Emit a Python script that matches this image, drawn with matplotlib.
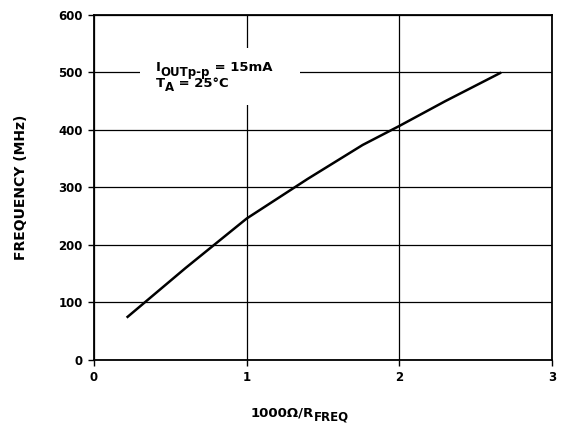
import matplotlib
matplotlib.use("Agg")
import matplotlib.pyplot as plt
from matplotlib.patches import Rectangle
from matplotlib.transforms import ScaledTranslation

# curve
x_vals = [0.22, 0.6, 1.0, 1.4, 1.76, 2.0, 2.3, 2.66]
freq_mhz = [75, 160, 246, 315, 374, 407, 450, 499]

x_ticks = [0, 1, 2, 3]
y_ticks = [0, 100, 200, 300, 400, 500, 600]

plt.rcParams['font.family'] = 'DejaVu Sans'
plt.rcParams['font.weight'] = 'bold'

fig = plt.figure(figsize=(5.67, 4.25), dpi=100)
ax = fig.add_axes([0.1658, 0.153, 0.8077, 0.8117])

ax.plot(x_vals, freq_mhz, color='black', lw=1.8, zorder=3)

ax.set_xlim(0, 3)
ax.set_ylim(0, 600)
ax.set_xticks(x_ticks)
ax.set_yticks(y_ticks)
ax.grid(True, color='black', lw=0.9)
ax.set_axisbelow(True)
for s in ax.spines.values():
    s.set_linewidth(1.3)
ax.tick_params(direction='out', length=4, width=1, labelsize=8.5, pad=4)
for lab in ax.get_xticklabels() + ax.get_yticklabels():
    lab.set_fontweight('bold')

ax.set_ylabel('FREQUENCY (MHz)', fontsize=10, fontweight='bold', labelpad=22)

# white patch behind the conditions note
ax.add_patch(Rectangle((0.30, 443), 1.05, 100, facecolor='white',
                       edgecolor='none', zorder=2))

fig.canvas.draw()
renderer = fig.canvas.get_renderer()


def rich(x, y, pieces, trans, center=False):
    # pieces: (text, size, dy in points)
    objs = []
    dx = 0.0
    for txt, size, dy in pieces:
        t = fig.text(x, y, txt, fontsize=size, fontweight='bold', va='baseline',
                     ha='left', zorder=5,
                     transform=trans + ScaledTranslation(dx, dy / 72, fig.dpi_scale_trans))
        w = t.get_window_extent(renderer).width / fig.dpi
        objs.append((t, dx, dy))
        dx += w
    if center:
        for t, d, dy in objs:
            t.set_transform(trans + ScaledTranslation(d - dx / 2, dy / 72, fig.dpi_scale_trans))
    return objs


rich(0.406, 502, [('I', 9.5, 0), ('OUTp-p', 8.5, -3), (' = 15mA', 9.5, 0)], ax.transData)
rich(0.406, 475, [('T', 9.5, 0), ('A', 8.5, -3), (' = 25°C', 9.5, 0)], ax.transData)
rich(0.529, 0.021, [('1000Ω/R', 9.5, 0), ('FREQ', 8.5, -3)], fig.transFigure, center=True)

fig.savefig('out.png', dpi=100)
